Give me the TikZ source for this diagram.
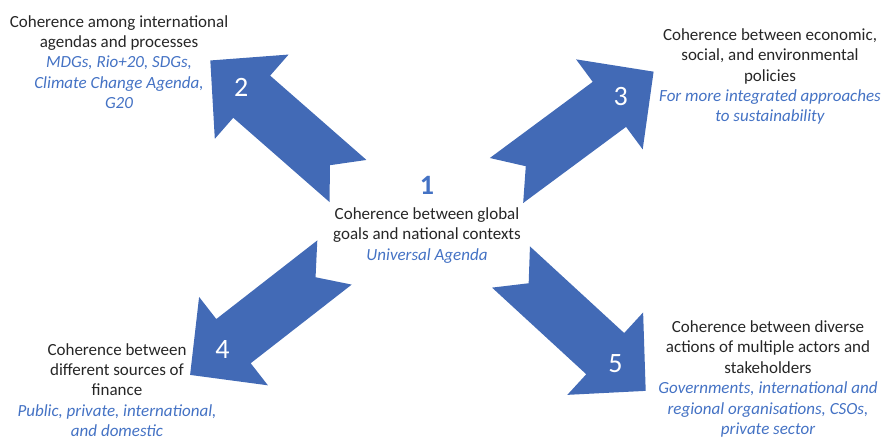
\documentclass[tikz,border=0pt]{standalone}
\usepackage{fontspec}
\setmainfont{Carlito}
\usetikzlibrary{positioning}

\definecolor{arrowblue}{RGB}{66,106,182}
\definecolor{noteblue}{RGB}{68,114,196}
\definecolor{textgray}{RGB}{38,38,38}

% notched block arrow: tail x, tail y, angle, number, name
\newcommand\notcharrow[5]{%
  \begin{scope}[shift={(#1,#2)}, rotate=#3]
    \fill[arrowblue] (0,28) -- (128,28) -- (128,56) -- (183,0) -- (128,-56)
      -- (128,-28) -- (0,-28) -- (24,0) -- cycle;
    \node[num] (#5) at (142,0) {#4};
  \end{scope}}

\begin{document}
\begin{tikzpicture}[
    x=1pt, y=1pt,
    desc/.style={align=center, inner sep=0pt, text=textgray,
      font=\fontsize{17}{20.4}\selectfont},
    num/.style={text=white, inner sep=0pt, font=\fontsize{28}{28}\selectfont},
    bignum/.style={text=noteblue, inner sep=0pt, font=\bfseries\fontsize{28}{28}\selectfont}
]
\useasboundingbox (0,0) rectangle (883,-440);

% arrows
\notcharrow{348}{-181}{138.8}{2}{a2}
\notcharrow{506.5}{-180.5}{36.5}{3}{a3}
\notcharrow{334.5}{-262.5}{217.9}{4}{a4}
\notcharrow{511}{-267}{-42.6}{5}{a5}

% centre
\node[bignum] (one) at (427,-185) {1};
\node[desc, below=13pt of one] (global) {Coherence between global\\goals and national contexts\\\textcolor{noteblue}{\itshape Universal Agenda}};

% corners
\node[desc] (agendas) at (119,-62) {Coherence among international\\agendas and processes\\\textcolor{noteblue}{\itshape MDGs, Rio+20, SDGs,}\\\textcolor{noteblue}{\itshape Climate Change Agenda,}\\\textcolor{noteblue}{\itshape G20}};
\node[desc] (policies) at (770,-76.5) {Coherence between economic,\\social, and environmental\\policies\\\textcolor{noteblue}{\itshape For more integrated approaches}\\\textcolor{noteblue}{\itshape to sustainability}};
\node[desc] (finance) at (117,-390) {Coherence between\\different sources of\\finance\\\textcolor{noteblue}{\itshape Public, private, international,}\\\textcolor{noteblue}{\itshape and domestic}};
\node[desc] (actors) at (768,-379) {Coherence between diverse\\actions of multiple actors and\\stakeholders\\\textcolor{noteblue}{\itshape Governments, international and}\\\textcolor{noteblue}{\itshape regional organisations, CSOs,}\\\textcolor{noteblue}{\itshape private sector}};

\end{tikzpicture}
\end{document}
